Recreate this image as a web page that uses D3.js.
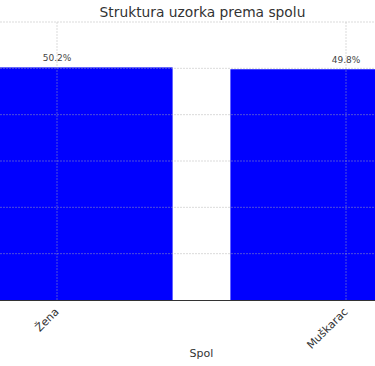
<!DOCTYPE html>
<html>
<head>
<meta charset="utf-8">
<script src="https://cdn.jsdelivr.net/npm/d3@7"></script>
<style>
  body { margin: 0; background: #fff; }
  svg { display: block; font-family: "DejaVu Sans", sans-serif; }
</style>
</head>
<body>
<div id="chart"></div>
<script>
const categories = ["Žena", "Muškarac"];
const shares = [50.2, 49.8];
const yTicks = [0, 10, 20, 30, 40, 50, 60];

const width = 375;
const height = 366;
const plotTop = 22;
const plotBottom = 300;
const barWidth = 0.8;

const x = d3.scaleLinear().domain([0, 1]).range([57, 346]);
const y = d3.scaleLinear().domain([0, 60]).range([plotBottom, plotTop]);

const svg = d3.select("#chart").append("svg")
  .attr("width", width)
  .attr("height", height);

// bars
svg.selectAll(".bar")
  .data(shares)
  .join("rect")
  .attr("class", "bar")
  .attr("x", (d, i) => x(i - barWidth / 2))
  .attr("width", x(barWidth) - x(0))
  .attr("y", d => y(d))
  .attr("height", d => y(0) - y(d))
  .attr("fill", "#0000ff");

// grid on top of bars
const gridStyle = sel => sel
  .attr("stroke", "#b0b0b0")
  .attr("stroke-opacity", 0.45)
  .attr("stroke-dasharray", "2 1");

svg.append("g")
  .selectAll("line")
  .data(yTicks.filter(t => t > 0))
  .join("line")
  .attr("x1", 0).attr("x2", width)
  .attr("y1", d => y(d)).attr("y2", d => y(d))
  .call(gridStyle);

svg.append("g")
  .selectAll("line")
  .data(categories)
  .join("line")
  .attr("x1", (d, i) => x(i)).attr("x2", (d, i) => x(i))
  .attr("y1", plotTop).attr("y2", plotBottom)
  .call(gridStyle);

// bottom spine
svg.append("line")
  .attr("x1", 0).attr("x2", width)
  .attr("y1", plotBottom + 0.5).attr("y2", plotBottom + 0.5)
  .attr("stroke", "#333")
  .attr("stroke-width", 1);

// value labels
svg.selectAll(".value")
  .data(shares)
  .join("text")
  .attr("class", "value")
  .attr("x", (d, i) => x(i))
  .attr("y", d => y(d) - 6)
  .attr("text-anchor", "middle")
  .attr("font-size", 9)
  .attr("fill", "#444")
  .text(d => d.toFixed(1) + "%");

// x tick labels
svg.selectAll(".tick-label")
  .data(categories)
  .join("text")
  .attr("class", "tick-label")
  .attr("transform", (d, i) => `translate(${x(i) - 3},${plotBottom + 7}) rotate(-45)`)
  .attr("text-anchor", "end")
  .attr("dy", "0.7em")
  .attr("font-size", 11)
  .attr("fill", "#333")
  .text(d => d);

// axis title
svg.append("text")
  .attr("x", (x(0) + x(1)) / 2)
  .attr("y", 357)
  .attr("text-anchor", "middle")
  .attr("font-size", 11)
  .attr("fill", "#333")
  .text("Spol");

// title
svg.append("text")
  .attr("x", (x(0) + x(1)) / 2 + 1)
  .attr("y", 17)
  .attr("text-anchor", "middle")
  .attr("font-size", 13.8)
  .attr("fill", "#333")
  .text("Struktura uzorka prema spolu");
</script>
</body>
</html>
